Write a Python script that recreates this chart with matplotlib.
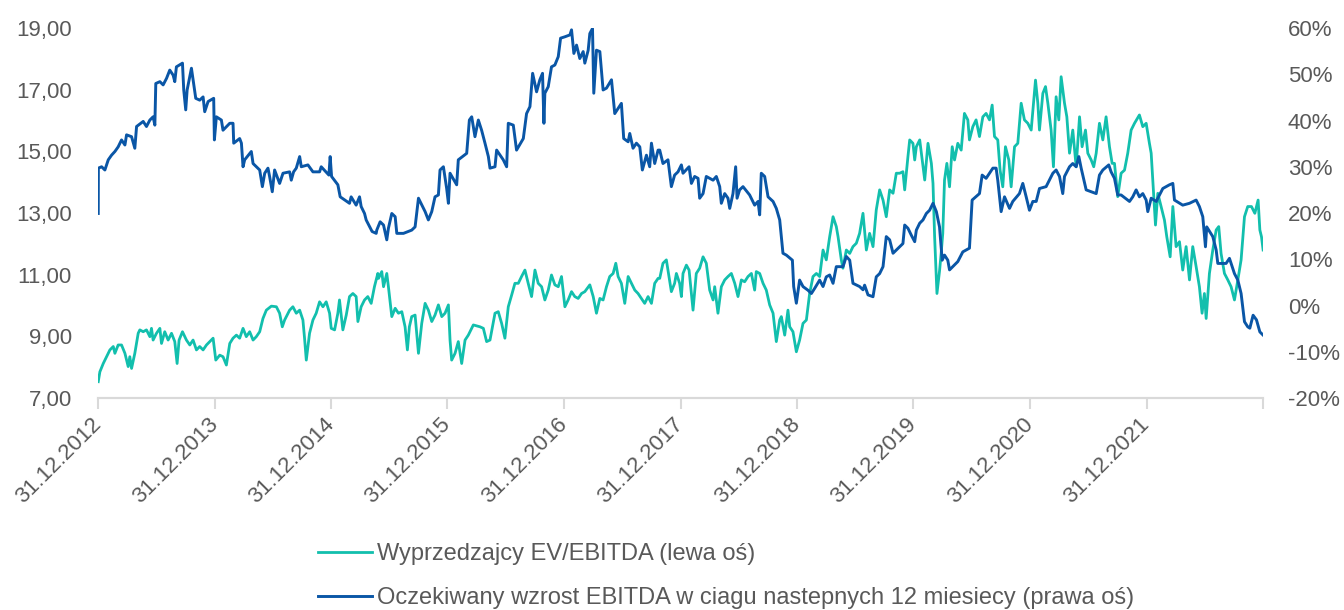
import numpy as np
import pandas as pd
import matplotlib
matplotlib.use('Agg')
import matplotlib.pyplot as plt
from matplotlib.ticker import FuncFormatter

plt.rcParams['font.family'] = ['Liberation Sans', 'DejaVu Sans']

# Years elapsed since 31.12.2012
ev_years = [0, 0.014, 0.043, 0.071, 0.1, 0.129, 0.143, 0.171, 0.2, 0.229, 0.257, 0.271, 0.286, 0.314,
            0.343, 0.357, 0.386, 0.414, 0.443, 0.457, 0.471, 0.5, 0.529, 0.543, 0.571, 0.6, 0.629,
            0.657, 0.677, 0.694, 0.723, 0.757, 0.786, 0.814, 0.843, 0.871, 0.9, 0.929, 0.986, 1.009,
            1.043, 1.071, 1.1, 1.129, 1.157, 1.186, 1.214, 1.243, 1.271, 1.3, 1.329, 1.357, 1.386,
            1.414, 1.443, 1.486, 1.529, 1.557, 1.58, 1.6, 1.643, 1.671, 1.7, 1.729, 1.757, 1.771,
            1.786, 1.814, 1.843, 1.871, 1.9, 1.929, 1.957, 1.986, 2.0, 2.029, 2.057, 2.071, 2.1,
            2.129, 2.157, 2.186, 2.214, 2.229, 2.257, 2.286, 2.314, 2.343, 2.371, 2.4, 2.406, 2.434,
            2.449, 2.477, 2.491, 2.52, 2.549, 2.577, 2.606, 2.634, 2.654, 2.671, 2.691, 2.72, 2.749,
            2.777, 2.806, 2.834, 2.863, 2.891, 2.92, 2.949, 2.977, 3.006, 3.02, 3.034, 3.063, 3.091,
            3.12, 3.149, 3.177, 3.22, 3.277, 3.306, 3.334, 3.363, 3.406, 3.434, 3.463, 3.491, 3.52,
            3.549, 3.577, 3.606, 3.634, 3.663, 3.691, 3.72, 3.749, 3.777, 3.806, 3.834, 3.863, 3.891,
            3.92, 3.949, 3.977, 4.006, 4.034, 4.063, 4.091, 4.12, 4.149, 4.177, 4.22, 4.249, 4.277,
            4.306, 4.334, 4.363, 4.391, 4.42, 4.443, 4.463, 4.491, 4.52, 4.549, 4.577, 4.606, 4.634,
            4.663, 4.691, 4.72, 4.749, 4.777, 4.806, 4.82, 4.848, 4.877, 4.891, 4.92, 4.948, 4.963,
            4.991, 5.006, 5.02, 5.049, 5.072, 5.106, 5.134, 5.163, 5.192, 5.22, 5.249, 5.278, 5.292,
            5.32, 5.349, 5.378, 5.406, 5.435, 5.464, 5.492, 5.521, 5.549, 5.578, 5.607, 5.635, 5.649,
            5.678, 5.707, 5.735, 5.764, 5.793, 5.821, 5.85, 5.864, 5.893, 5.921, 5.936, 5.964, 5.993,
            6.021, 6.05, 6.079, 6.107, 6.136, 6.165, 6.193, 6.222, 6.25, 6.279, 6.308, 6.336, 6.351,
            6.379, 6.393, 6.422, 6.451, 6.479, 6.508, 6.536, 6.565, 6.594, 6.622, 6.651, 6.679, 6.708,
            6.737, 6.765, 6.794, 6.823, 6.851, 6.88, 6.908, 6.923, 6.951, 6.966, 6.994, 7.009, 7.023,
            7.052, 7.066, 7.095, 7.123, 7.152, 7.166, 7.18, 7.2, 7.223, 7.236, 7.25, 7.265, 7.285,
            7.308, 7.331, 7.351, 7.379, 7.408, 7.436, 7.465, 7.479, 7.508, 7.536, 7.565, 7.594, 7.622,
            7.651, 7.674, 7.694, 7.722, 7.742, 7.765, 7.788, 7.817, 7.837, 7.866, 7.894, 7.923, 7.951,
            7.98, 8.009, 8.046, 8.066, 8.08, 8.109, 8.132, 8.152, 8.18, 8.2, 8.223, 8.246, 8.266,
            8.295, 8.315, 8.338, 8.366, 8.395, 8.424, 8.446, 8.475, 8.495, 8.524, 8.546, 8.567, 8.595,
            8.624, 8.652, 8.681, 8.704, 8.724, 8.752, 8.781, 8.81, 8.838, 8.867, 8.896, 8.938, 8.967,
            8.996, 9.024, 9.039, 9.053, 9.076, 9.096, 9.124, 9.153, 9.173, 9.202, 9.225, 9.253, 9.282,
            9.31, 9.339, 9.368, 9.396, 9.425, 9.453, 9.476, 9.496, 9.511, 9.539, 9.568, 9.597, 9.619,
            9.639, 9.668, 9.697, 9.725, 9.754, 9.783, 9.811, 9.84, 9.868, 9.9, 9.929, 9.957, 9.972,
            9.986, 10.0]
ev_values = [7.53, 7.85, 8.12, 8.34, 8.56, 8.67, 8.45, 8.72, 8.72, 8.45, 8.02, 8.34, 7.96, 8.45,
             9.10, 9.21, 9.15, 9.21, 8.99, 9.26, 8.88, 9.10, 9.26, 8.77, 9.15, 8.88, 9.10,
             8.83, 8.12, 8.88, 9.15, 8.88, 8.72, 8.88, 8.56, 8.67, 8.56, 8.72, 8.94, 8.23,
             8.39, 8.34, 8.07, 8.77, 8.94, 9.04, 8.94, 9.26, 8.99, 9.15, 8.88, 8.99, 9.15,
             9.58, 9.85, 9.98, 9.96, 9.75, 9.31, 9.53, 9.85, 9.96, 9.75, 9.85, 9.53, 8.94,
             8.23, 9.10, 9.53, 9.75, 10.12, 9.96, 10.12, 9.75, 9.26, 9.21, 9.75, 10.18, 9.21,
             9.69, 10.29, 10.39, 10.29, 9.48, 9.96, 10.18, 10.29, 10.07, 10.61, 11.04, 10.88, 11.10,
             10.61, 11.04, 10.61, 9.64, 9.91, 9.75, 9.80, 9.31, 8.56, 9.31, 9.64, 9.69, 8.45,
             9.42, 10.07, 9.85, 9.48, 9.69, 10.02, 9.64, 9.75, 10.02, 8.88, 8.23, 8.45, 8.83,
             8.12, 8.88, 9.04, 9.37, 9.31, 9.26, 8.83, 8.88, 9.75, 9.80, 9.42, 8.94, 9.96,
             10.34, 10.72, 10.72, 10.94, 11.15, 10.72, 10.29, 11.15, 10.72, 10.61, 10.18, 10.50, 10.99,
             10.67, 10.61, 10.94, 9.96, 10.18, 10.45, 10.29, 10.23, 10.39, 10.45, 10.67, 10.29, 9.75,
             10.23, 10.18, 10.61, 10.94, 11.04, 11.37, 10.94, 10.72, 10.07, 10.94, 10.72, 10.50, 10.39,
             10.23, 10.07, 10.29, 10.07, 10.72, 10.88, 10.88, 11.37, 11.48, 11.15, 10.45, 10.72, 11.04,
             10.72, 10.29, 11.04, 11.31, 11.15, 9.85, 11.04, 11.21, 11.58, 11.37, 10.50, 10.18, 10.61,
             9.75, 10.61, 10.83, 10.94, 11.04, 10.72, 10.29, 10.83, 10.77, 10.94, 11.04, 10.50, 11.10,
             11.04, 10.72, 10.50, 10.02, 9.75, 8.83, 9.53, 9.64, 9.04, 9.85, 9.31, 9.15, 8.50,
             8.88, 9.42, 9.53, 10.39, 10.94, 11.04, 10.94, 11.80, 11.48, 12.23, 12.88, 12.56, 12.23,
             11.48, 11.21, 11.80, 11.69, 11.91, 12.02, 12.34, 12.99, 11.80, 12.34, 11.91, 13.10, 13.75,
             13.42, 12.88, 13.75, 13.64, 14.29, 14.29, 14.34, 13.75, 14.83, 15.37, 15.26, 14.72, 15.15,
             15.37, 14.94, 14.07, 15.26, 14.61, 13.96, 12.23, 10.39, 11.15, 11.69, 12.34, 14.07, 14.61,
             13.85, 15.15, 14.72, 15.26, 15.04, 16.23, 16.02, 15.37, 15.80, 16.02, 15.48, 16.12, 16.23,
             16.02, 16.50, 15.48, 15.37, 14.39, 13.85, 15.15, 14.72, 13.85, 15.15, 15.26, 16.56, 16.02,
             15.91, 15.69, 17.31, 16.56, 15.69, 16.88, 17.10, 16.56, 15.69, 14.50, 16.77, 16.02, 17.42,
             16.56, 16.12, 14.94, 15.69, 14.50, 16.12, 15.15, 15.69, 14.94, 14.72, 14.50, 14.94, 15.91,
             15.37, 16.12, 15.15, 14.61, 14.61, 13.53, 14.29, 14.39, 14.94, 15.69, 15.91, 16.18, 15.80,
             15.91, 15.26, 14.94, 14.07, 12.61, 13.64, 13.21, 12.77, 12.23, 11.58, 13.21, 11.91, 12.07,
             11.15, 11.91, 10.83, 11.91, 11.26, 10.61, 9.75, 10.39, 9.58, 11.04, 11.80, 12.45, 12.56,
             11.69, 11.04, 10.83, 10.61, 10.18, 10.83, 11.48, 12.88, 13.21, 13.21, 12.99, 13.42, 12.45,
             12.23, 11.80]

growth_years = [0, 0.001, 0.029, 0.057, 0.086, 0.114, 0.143, 0.171, 0.2, 0.229, 0.243, 0.286, 0.314,
                0.329, 0.386, 0.414, 0.443, 0.471, 0.486, 0.494, 0.529, 0.557, 0.586, 0.614, 0.643,
                0.657, 0.671, 0.723, 0.734, 0.751, 0.763, 0.8, 0.814, 0.837, 0.871, 0.9, 0.914, 0.943,
                0.991, 0.997, 1.014, 1.057, 1.071, 1.129, 1.157, 1.163, 1.214, 1.229, 1.243, 1.257,
                1.314, 1.329, 1.386, 1.409, 1.429, 1.457, 1.471, 1.494, 1.514, 1.557, 1.586, 1.643,
                1.657, 1.677, 1.7, 1.729, 1.743, 1.8, 1.843, 1.9, 1.914, 1.98, 1.991, 2.003, 2.057,
                2.077, 2.157, 2.171, 2.214, 2.243, 2.257, 2.286, 2.3, 2.351, 2.386, 2.391, 2.42, 2.449,
                2.477, 2.491, 2.52, 2.549, 2.563, 2.62, 2.691, 2.72, 2.749, 2.806, 2.834, 2.863, 2.891,
                2.92, 2.934, 2.963, 2.991, 3.006, 3.02, 3.077, 3.091, 3.163, 3.186, 3.206, 3.234, 3.263,
                3.291, 3.32, 3.349, 3.363, 3.406, 3.42, 3.477, 3.506, 3.52, 3.563, 3.591, 3.649, 3.677,
                3.706, 3.729, 3.763, 3.791, 3.814, 3.826, 3.834, 3.863, 3.891, 3.92, 3.949, 3.969,
                4.006, 4.049, 4.063, 4.083, 4.106, 4.134, 4.163, 4.177, 4.206, 4.22, 4.243, 4.254,
                4.277, 4.306, 4.334, 4.363, 4.406, 4.434, 4.491, 4.511, 4.549, 4.563, 4.591, 4.62,
                4.649, 4.671, 4.706, 4.734, 4.749, 4.777, 4.806, 4.82, 4.848, 4.891, 4.92, 4.948, 4.977,
                5.006, 5.02, 5.072, 5.092, 5.12, 5.149, 5.163, 5.192, 5.22, 5.278, 5.306, 5.335, 5.349,
                5.378, 5.406, 5.421, 5.449, 5.472, 5.484, 5.506, 5.535, 5.592, 5.635, 5.664, 5.678,
                5.692, 5.721, 5.75, 5.793, 5.821, 5.85, 5.864, 5.878, 5.907, 5.959, 5.97, 5.993, 6.021,
                6.05, 6.093, 6.122, 6.15, 6.193, 6.222, 6.25, 6.279, 6.308, 6.336, 6.393, 6.422, 6.451,
                6.479, 6.536, 6.565, 6.579, 6.608, 6.651, 6.679, 6.708, 6.737, 6.765, 6.794, 6.823, 6.88,
                6.908, 6.923, 6.951, 6.98, 7.009, 7.023, 7.052, 7.08, 7.109, 7.137, 7.166, 7.195, 7.222,
                7.245, 7.265, 7.293, 7.308, 7.336, 7.379, 7.422, 7.479, 7.502, 7.565, 7.588, 7.622, 7.68,
                7.708, 7.722, 7.751, 7.78, 7.823, 7.851, 7.908, 7.937, 7.966, 7.994, 8.023, 8.052, 8.08,
                8.137, 8.195, 8.223, 8.252, 8.28, 8.295, 8.338, 8.366, 8.395, 8.418, 8.438, 8.481, 8.567,
                8.595, 8.624, 8.675, 8.695, 8.724, 8.752, 8.781, 8.853, 8.881, 8.91, 8.938, 8.967, 8.996,
                9.01, 9.039, 9.082, 9.139, 9.196, 9.225, 9.239, 9.31, 9.368, 9.425, 9.453, 9.482, 9.505,
                9.516, 9.568, 9.597, 9.611, 9.682, 9.711, 9.754, 9.783, 9.811, 9.84, 9.868, 9.886, 9.914,
                9.943, 9.972, 10.0]
growth_pct = [19.9, 29.7, 30.0, 29.3, 31.5, 32.5, 33.3, 34.3, 35.8, 34.7, 36.9, 36.5, 34.0,
              38.7, 39.8, 38.7, 40.1, 40.8, 39.0, 48.0, 48.4, 47.7, 49.1, 50.9, 49.8,
              48.4, 51.6, 52.4, 46.6, 42.3, 46.6, 51.3, 48.8, 44.8, 44.4, 45.1, 41.9, 44.1,
              44.8, 35.8, 40.8, 40.1, 37.9, 39.4, 39.4, 35.1, 36.1, 35.1, 30.0, 31.5,
              33.3, 30.7, 29.3, 25.7, 28.6, 29.7, 27.9, 24.6, 29.3, 26.4, 28.6, 28.9,
              27.1, 28.9, 29.7, 32.2, 30.0, 30.4, 28.9, 28.9, 30.0, 28.2, 32.2, 27.9, 26.1,
              23.5, 22.1, 23.5, 21.7, 23.5, 21.4, 19.9, 18.5, 16.0, 15.6, 16.3, 18.1, 17.4,
              14.2, 16.7, 19.9, 19.2, 15.6, 15.6, 16.3, 17.0, 23.2, 20.3, 18.5, 20.3, 23.5,
              23.9, 29.3, 30.0, 25.3, 22.1, 28.6, 26.1, 31.5, 32.9, 40.1, 40.8, 36.5, 40.1,
              37.9, 35.1, 32.2, 29.7, 30.0, 33.6, 31.5, 30.0, 39.4, 39.0, 33.6, 36.1, 41.5,
              43.0, 50.2, 46.2, 48.8, 50.2, 39.4, 45.9, 47.3, 51.6, 52.0, 53.8, 57.8,
              58.1, 58.5, 59.6, 54.5, 56.3, 53.4, 54.9, 52.4, 55.2, 58.8, 59.9, 45.9,
              55.2, 54.9, 46.6, 47.0, 48.8, 41.5, 43.7, 36.1, 35.4, 37.2, 34.0, 35.1,
              34.3, 29.3, 32.5, 30.0, 35.1, 30.7, 33.6, 33.6, 30.7, 31.5, 25.7, 28.2, 28.9,
              30.4, 28.6, 30.0, 26.4, 27.9, 27.5, 23.2, 24.2, 27.9, 27.1, 27.9, 25.7, 22.1,
              24.2, 23.2, 21.0, 24.2, 30.0, 23.2, 25.0, 25.7, 23.9, 21.7, 22.5, 19.6,
              28.6, 27.9, 23.5, 22.5, 21.0, 18.5, 14.9, 11.3, 10.9, 9.8, 4.1, 0.5, 5.5,
              4.1, 3.3, 2.6, 3.7, 5.5, 4.1, 6.2, 6.6, 4.8, 8.4, 8.4, 10.6, 9.8,
              4.8, 4.1, 3.4, 4.4, 2.3, 1.9, 6.2, 6.9, 8.4, 14.9, 14.2, 11.3, 12.7,
              13.4, 17.4, 16.7, 15.2, 13.8, 16.3, 17.8, 18.5, 19.9, 20.6, 22.1, 20.3, 17.0,
              9.8, 10.9, 9.8, 7.7, 8.4, 9.5, 11.6, 12.4, 22.8, 24.2, 28.2, 27.5, 29.7,
              29.7, 27.1, 20.3, 23.5, 21.0, 22.5, 24.2, 26.4, 23.5, 20.6, 22.5, 22.5, 25.3,
              25.7, 28.6, 29.3, 27.9, 24.2, 27.9, 30.0, 30.7, 30.0, 32.2, 29.7, 25.0, 24.2,
              28.2, 29.3, 30.4, 28.9, 27.5, 23.9, 23.9, 22.5, 23.5, 25.0, 23.5, 24.2, 22.8,
              20.3, 23.2, 22.5, 25.3, 26.1, 26.4, 22.8, 21.7, 22.1, 22.8, 21.4, 19.2, 12.7,
              17.0, 14.9, 12.0, 9.1, 9.1, 10.2, 6.9, 5.5, 2.6, -3.5, -4.6, -4.9, -2.1,
              -3.1, -5.7, -6.4]

tick_years = list(range(2012, 2023))
start = pd.Timestamp('2012-12-31')


def to_dates(years):
    return start + pd.to_timedelta(np.array(years) * 365.25, unit='D')


teal = '#12BFAD'
navy = '#0A56A6'
grey = '#595959'

fig = plt.figure(figsize=(13.44, 6.10), dpi=100)
ax = fig.add_axes([0.0731, 0.3475, 0.8666, 0.6066])
ax2 = ax.twinx()

l1, = ax.plot(to_dates(ev_years), ev_values, color=teal, lw=2.0,
              label='Wyprzedzajcy EV/EBITDA (lewa oś)')
l2, = ax2.plot(to_dates(growth_years), growth_pct, color=navy, lw=2.1,
               label='Oczekiwany wzrost EBITDA w ciagu nastepnych 12 miesiecy (prawa oś)')

ax.set_ylim(7, 19)
ax.set_yticks(np.arange(7, 20, 2))
ax.yaxis.set_major_formatter(FuncFormatter(lambda v, p: f'{v:.2f}'.replace('.', ',')))
ax2.set_ylim(-20, 60)
ax2.set_yticks(np.arange(-20, 61, 10))
ax2.yaxis.set_major_formatter(FuncFormatter(lambda v, p: f'{v:.0f}%'))

ticks = [pd.Timestamp(f'{y}-12-31') for y in tick_years]
ax.set_xlim(ticks[0], ticks[-1])
ax.set_xticks(ticks)
ax.set_xticklabels([f'31.12.{y}' for y in tick_years[:-1]] + [''],
                   rotation=45, ha='right', va='center', rotation_mode='anchor')

for a in (ax, ax2):
    for s in ('top', 'left', 'right'):
        a.spines[s].set_visible(False)
    a.spines['bottom'].set_color('#D9D9D9')
    a.spines['bottom'].set_linewidth(1.5)

ax.tick_params(axis='x', length=8, width=1.5, color='#D9D9D9', labelsize=16,
               labelcolor=grey, pad=9)
ax.tick_params(axis='y', length=0, labelsize=16, labelcolor=grey, pad=19)
ax2.tick_params(axis='y', length=0, labelsize=16, labelcolor=grey, pad=18)

fig.legend(handles=[l1, l2], loc='upper left', bbox_to_anchor=(0.2296, 0.1246),
           frameon=False, fontsize=17, labelcolor=grey, handlelength=2.29,
           handletextpad=0.2, labelspacing=0.93, borderaxespad=0)

fig.savefig('out.png', dpi=100)
